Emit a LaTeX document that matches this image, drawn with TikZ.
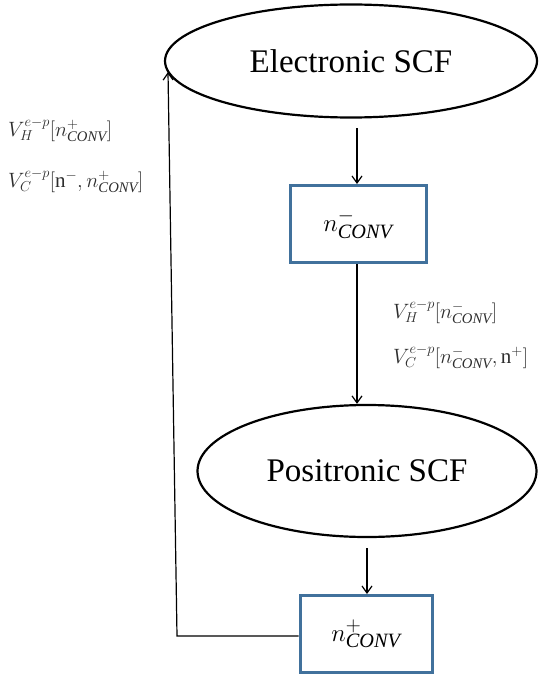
\documentclass[tikz,border=0pt]{standalone}
\usepackage{fontspec}
\setmainfont{Liberation Serif}
\usetikzlibrary{shapes.geometric,arrows.meta}

\definecolor{boxblue}{RGB}{65,113,156}
\definecolor{labelgray}{RGB}{45,45,45}

\tikzset{
  scfnode/.style={ellipse, draw=black, line width=2.2pt, inner sep=0pt,
    font=\fontsize{33}{36}\selectfont},
  densbox/.style={rectangle, draw=boxblue, line width=3pt, inner sep=0pt,
    font=\fontsize{29}{32}\selectfont},
  flow/.style={draw=black, line width=1.2pt, -{Straight Barb[length=7pt,width=10pt]}},
  potlabel/.style={anchor=west, inner sep=0pt, text=labelgray,
    font=\fontsize{21}{24}\selectfont}
}

\begin{document}
\begin{tikzpicture}[x=1pt,y=-1pt]
  \useasboundingbox (0,0) rectangle (539,677);

  % the two SCF cycles
  \node[scfnode, minimum width=372pt, minimum height=113pt] (esc) at (351,61) {Electronic SCF};
  \node[scfnode, minimum width=339pt, minimum height=132pt] (psc) at (367,471) {Positronic SCF};

  % converged densities
  \node[densbox, minimum width=136pt, minimum height=77pt] (nminus) at (358,224) {$n^{-}_{\mathit{CONV}}$};
  \node[densbox, minimum width=132pt, minimum height=77pt] (nplus) at (366,634) {$n^{+}_{\mathit{CONV}}$};

  % flow of the cycle
  \coordinate (a1) at (357,128);
  \draw[flow] (a1) -- (nminus.north -| a1);
  \draw[flow] (nminus.south -| a1) -- (psc.north -| a1);
  \coordinate (a3) at (367,548);
  \draw[flow] (a3) -- (nplus.north -| a3);

  % feedback of the positron density to the electronic cycle
  \coordinate (corner) at (177,636);
  \coordinate (back) at (168,72);
  \draw[flow] (nplus.west |- corner) -- (corner) -- (back);

  % potentials passed between the cycles
  \node[potlabel] (vh1) at (8,130) {$V_H^{e-p}[n^{+}_{\mathit{CONV}}]$};
  \node[potlabel] (vc1) at (8,181) {$V_C^{e-p}[\mathrm{n}^{-},n^{+}_{\mathit{CONV}}]$};
  \node[potlabel] (vh2) at (393,312) {$V_H^{e-p}[n^{-}_{\mathit{CONV}}]$};
  \node[potlabel] (vc2) at (393,357) {$V_C^{e-p}[n^{-}_{\mathit{CONV}},\mathrm{n}^{+}]$};
\end{tikzpicture}
\end{document}
